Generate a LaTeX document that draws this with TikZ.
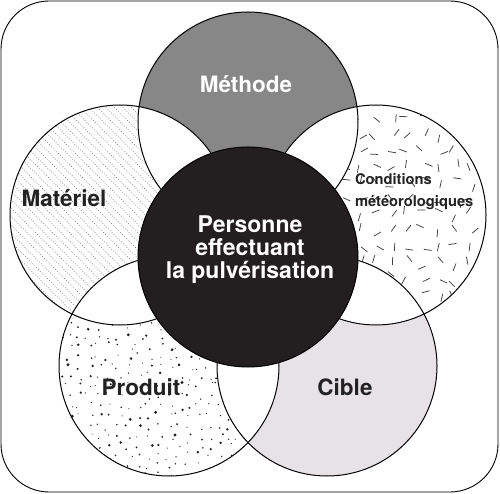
\documentclass[tikz,border=0pt]{standalone}
\usepackage{fontspec}
\setmainfont{TeX Gyre Heros}
\usepackage{tikz}
\newcommand{\petalsize}{220pt}
\newcommand{\petalradius}{110pt}
\definecolor{methodegray}{HTML}{878787}
\definecolor{ciblegray}{HTML}{E6E2E6}
\definecolor{personnedark}{HTML}{231F20}
\definecolor{inkdark}{HTML}{222222}
\tikzstyle{petal}=[circle, inner sep=0, outer sep=0, minimum size=\petalsize]
\tikzstyle{rim}=[draw=black, line width=1pt]
\tikzstyle{hatch}=[black!55, line width=0.6pt, dash pattern=on 0.8pt off 1.8pt]
\tikzstyle{fleck}=[black!75, line width=0.75pt]
\tikzstyle{grain}=[inkdark]
\tikzstyle{bigword}=[font=\fontsize{22.5}{23}\selectfont\bfseries, text=inkdark]
\tikzstyle{centerword}=[font=\fontsize{23}{23}\selectfont\bfseries, text=white, align=center]
\tikzstyle{smallword}=[font=\fontsize{14.7}{22}\selectfont\bfseries, text=inkdark, align=left]
% Fillings of the petals.
\tikzstyle{lined}=[path picture={
    \foreach \k in {-27,...,27}
      \draw[hatch] ([shift={(\k*8.5-115,-115)}]path picture bounding box.center) -- ++(230,230);}]
\tikzstyle{flecked}=[path picture={
    \pgfmathsetseed{11}
    \foreach \gx in {-6,...,6}
      \foreach \gy in {-6,...,6} {
        \pgfmathsetmacro{\fx}{\gx*16+10*rnd-5}
        \pgfmathsetmacro{\fy}{\gy*16+10*rnd-5}
        \pgfmathsetmacro{\fa}{180*rnd}
        \draw[fleck] ([shift={(\fx,\fy)}]path picture bounding box.center) ++(\fa:4) -- ++(\fa+180:8);
      }}]
\tikzstyle{speckled}=[path picture={
    \pgfmathsetseed{5}
    \foreach \gx in {-11,...,11}
      \foreach \gy in {-11,...,11} {
        \pgfmathsetmacro{\px}{\gx*10+8*rnd-4}
        \pgfmathsetmacro{\py}{\gy*10+8*rnd-4}
        \pgfmathsetmacro{\ps}{0.55+1.3*rnd*rnd}
        \fill[grain] ([shift={(\px,\py)}]path picture bounding box.center) circle (\ps pt);
      }}]

\begin{document}
\begin{tikzpicture}[x=1pt, y=-1pt, every node/.style={inner sep=0, outer sep=0}]
    \useasboundingbox (0,0) rectangle (500,494);
    \draw[line width=0.9pt, rounded corners=48pt] (1,1) rectangle (498,492);
    % Petals, one per factor.
    \node[petal, fill=methodegray]      (methode)    at (248,122) {};
    \node[petal, fill=white, flecked]   (conditions) at (376,215) {};
    \node[petal, fill=ciblegray]        (cible)      at (327,366) {};
    \node[petal, fill=white, speckled]  (produit)    at (169,366) {};
    \node[petal, fill=white, lined]     (materiel)   at (120,215) {};
    % Overlaps of neighbouring petals stay white.
    \foreach \a/\b in {methode/conditions, conditions/cible, cible/produit, produit/materiel, materiel/methode} {
        \begin{scope}
            \clip (\a.center) circle (\petalradius);
            \fill[white] (\b.center) circle (\petalradius);
        \end{scope}
    }
    \foreach \n in {methode, conditions, cible, produit, materiel}
        \draw[rim] (\n.center) circle (\petalradius);
    \node[petal, fill=personnedark, rim] (personne) at (248,257) {};
    % Labels.
    \node[bigword, text=white, anchor=base] (methodetext)  at (246,93)  {Méthode};
    \node[bigword, anchor=base]             (materieltext) at (64,207)  {Matériel};
    \node[bigword, anchor=base]             (produittext)  at (141,395) {Produit};
    \node[bigword, anchor=base]             (cibletext)    at (345,395) {Cible};
    \node[centerword]                       (personnetext) at (250,250) {Personne\\effectuant\\la pulvérisation};
    \node[smallword, anchor=north west]     (conditionstext) at (355,174) {Conditions\\météorologiques};
\end{tikzpicture}
\end{document}
